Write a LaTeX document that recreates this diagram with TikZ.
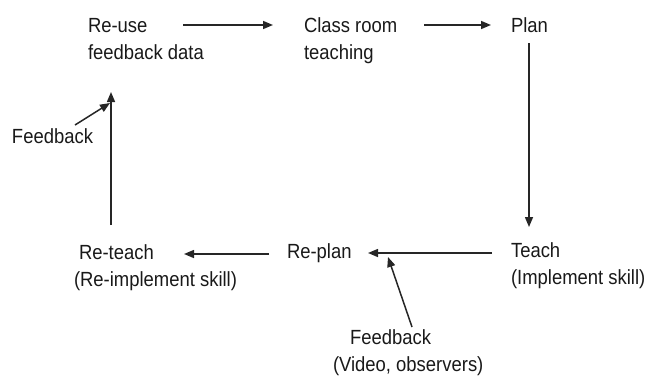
\documentclass[tikz,border=0pt]{standalone}
\usepackage{fontspec}
\setmainfont{Liberation Sans}[FakeStretch=0.9]
\usetikzlibrary{arrows.meta}
\begin{document}
\begin{tikzpicture}[x=1pt,y=-1pt,
  lbl/.style={inner sep=0pt,outer sep=0pt,anchor=base west,align=left,
    font=\fontsize{20.5}{27}\selectfont,text=black!90},
  arr/.style={line width=1.5pt,draw=black!85,-{Triangle[length=10pt,width=8pt]}}]
\useasboundingbox (0,0) rectangle (647,376);
% multi-line nodes: base anchor sits on the last line
\node[lbl] (reuse) at (88,59) {Re-use\\feedback data};
\node[lbl] (class) at (304,59) {Class room\\teaching};
\node[lbl] (plan) at (511,32) {Plan};
\node[lbl] (fbl) at (12,143) {Feedback};
\node[lbl] (reteach) at (74,286) {\hspace{5pt}Re-teach\\(Re-implement skill)};
\node[lbl] (replan) at (287,258) {Re-plan};
\node[lbl] (teach) at (511,284) {Teach\\(Implement skill)};
\node[lbl] (fbb) at (333,371) {\hspace{17pt}Feedback\\(Video, observers)};
\coordinate (a1s) at (183,25); \coordinate (a1e) at (273,25);
\coordinate (a2s) at (424,25); \coordinate (a2e) at (491,25);
\coordinate (a3s) at (529,43); \coordinate (a3e) at (529,227);
\coordinate (a4s) at (492,253); \coordinate (a4e) at (368,253);
\coordinate (a5s) at (269,254); \coordinate (a5e) at (184,254);
\coordinate (a6s) at (111,225); \coordinate (a6e) at (111,92);
\coordinate (f1s) at (75,125); \coordinate (f1e) at (110,103);
\coordinate (f2s) at (412,327); \coordinate (f2e) at (388,257);
\draw[arr] (a1s) -- (a1e);
\draw[arr] (a2s) -- (a2e);
\draw[arr] (a3s) -- (a3e);
\draw[arr] (a4s) -- (a4e);
\draw[arr] (a5s) -- (a5e);
\draw[arr] (a6s) -- (a6e);
\draw[arr] (f1s) -- (f1e);
\draw[arr] (f2s) -- (f2e);
\end{tikzpicture}
\end{document}
